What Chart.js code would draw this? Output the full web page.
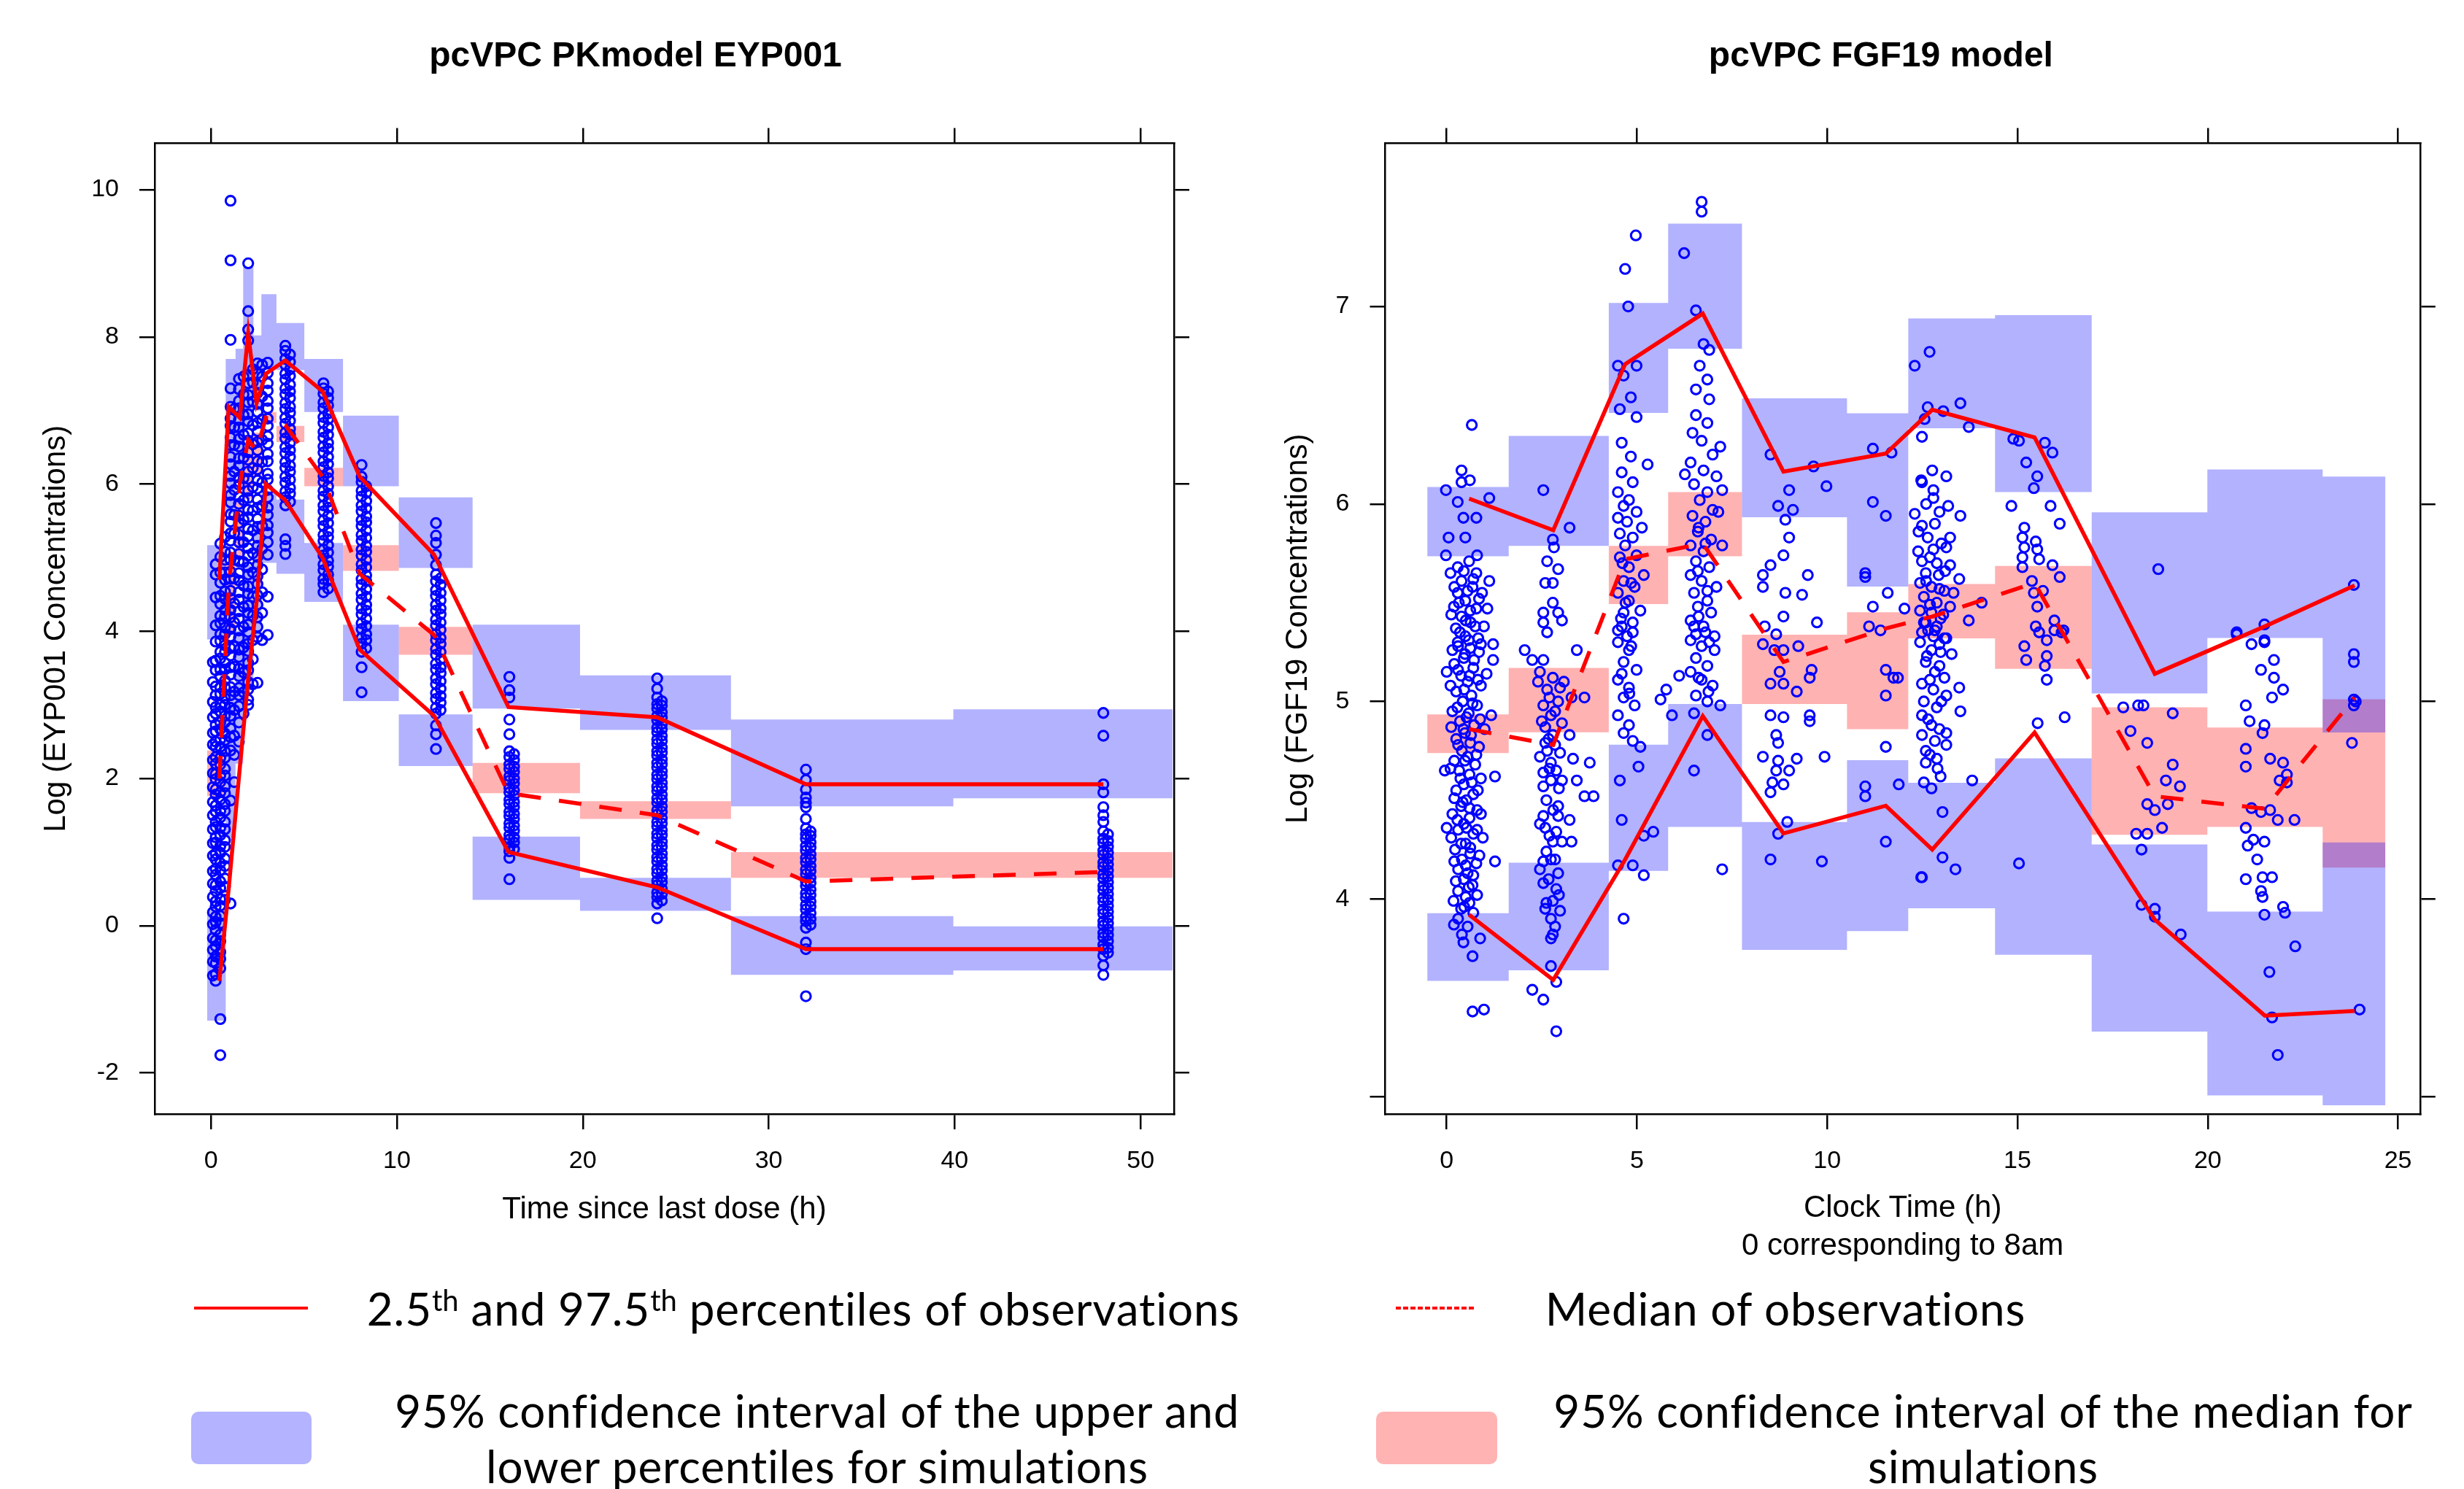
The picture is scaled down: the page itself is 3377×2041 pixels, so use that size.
<!DOCTYPE html>
<html>
<head>
<meta charset="utf-8">
<script src="https://cdn.jsdelivr.net/npm/chart.js@4.4.1/dist/chart.umd.min.js"></script>
<style>
  html, body { margin: 0; padding: 0; background: #fff; }
  body { position: relative; width: 3377px; height: 2041px; overflow: hidden; }
  canvas { position: absolute; top: 0; }
  .lg { position: absolute; font-family: Lato, 'Open Sans', sans-serif; font-size: 62px; line-height: 76px; letter-spacing: 0.9px; color: #000; white-space: nowrap; text-align: center; width: 1400px; }
  .lg sup { font-size: 40px; vertical-align: 20px; line-height: 0; letter-spacing: 0; }
  .swatch { position: absolute; }
</style>
</head>
<body>
<canvas id="pk" width="1742" height="1720" style="left:0"></canvas>
<canvas id="fgf" width="1680" height="1790" style="left:1722px"></canvas>

<div class="swatch" style="left:266px;top:1791px;width:156px;height:4px;background:#ff0000"></div>
<div class="lg" style="left:401px;top:1755px">2.5<sup>th</sup> and 97.5<sup>th</sup> percentiles of observations</div>
<div class="swatch" style="left:1913px;top:1791px;width:110px;height:4px;background:repeating-linear-gradient(90deg,#ff0000 0 7px,transparent 7px 10px)"></div>
<div class="lg" style="left:1747px;top:1755px">Median of observations</div>
<div class="swatch" style="left:262px;top:1935px;width:165px;height:72px;border-radius:10px;background:rgb(179,179,255)"></div>
<div class="lg" style="left:420px;top:1895px">95% confidence interval of the upper and<br>lower percentiles for simulations</div>
<div class="swatch" style="left:1886px;top:1935px;width:166px;height:72px;border-radius:10px;background:rgb(255,179,179)"></div>
<div class="lg" style="left:2018px;top:1895px">95% confidence interval of the median for<br>simulations</div>

<script>
// ---------- pcVPC PK model (EYP001) ----------
const pkXTicks = [0, 10, 20, 30, 40, 50];
const pkYTicks = [-2, 0, 2, 4, 6, 8, 10];

// simulation bins (edges) and 95% CI of percentiles
const pkBinEdges = [-0.21, 0.79, 1.32, 1.73, 2.28, 2.71, 3.52, 5.02, 7.1, 10.1, 14.07, 19.85, 27.97, 39.93, 51.74];
const pkUpperLo = [3.89, 5.6, 6.2, 6.8, 7.0, 7.56, 7.55, 6.98, 5.97, 4.86, 2.95, 2.66, 1.62, 1.73];
const pkUpperHi = [5.17, 7.70, 7.84, 8.95, 8.02, 8.58, 8.19, 7.70, 6.93, 5.82, 4.09, 3.40, 2.80, 2.94];
const pkMedLo = [1.76, 4.0, 5.0, 5.8, 6.1, 6.83, 6.57, 5.97, 4.82, 3.68, 1.80, 1.45, 0.65, 0.65];
const pkMedHi = [2.38, 4.9, 5.8, 6.5, 6.7, 6.98, 6.79, 6.22, 5.17, 4.06, 2.21, 1.69, 1.00, 1.00];
const pkLowerLo = [-1.29, 1.2, 2.2, 3.2, 3.9, 4.93, 4.78, 4.40, 3.05, 2.17, 0.35, 0.20, -0.67, -0.61];
const pkLowerHi = [0.21, 3.2, 4.0, 4.9, 5.5, 5.90, 5.79, 5.20, 4.09, 2.87, 1.21, 0.65, 0.13, -0.01];

// observed percentiles
const pkLineT = [0.45, 0.95, 1.55, 2.0, 2.45, 2.95, 4.0, 6.0, 8.0, 12.0, 16.0, 24.0, 32.0, 48.0];
const pkP975 = [4.7, 7.05, 6.9, 8.05, 7.1, 7.5, 7.68, 7.26, 6.1, 5.04, 2.97, 2.83, 1.92, 1.92];
const pkP50 = [2.0, 4.6, 6.0, 6.6, 6.45, 6.9, 6.8, 6.1, 4.78, 3.95, 1.8, 1.5, 0.6, 0.73];
const pkP025 = [-0.75, 0.5, 2.15, 3.35, 4.4, 6.0, 5.78, 5.0, 3.75, 2.85, 1.0, 0.52, -0.32, -0.32];

// observations, one list per sampling time
const pkObsTimes = [0.1, 0.25, 0.5, 0.75, 1.05, 1.25, 1.5, 1.75, 2.0, 2.25, 2.5, 2.75, 3.05, 4.0, 4.25, 6.05, 6.3, 8.1, 8.35, 12.1, 12.35, 16.05, 16.3, 24.0, 24.25, 32.0, 32.25, 48.0, 48.25];
const pkObsConc = [
  [-0.68,-0.49,-0.33,-0.17,0.02,0.18,0.39,0.57,0.74,0.95,1.12,1.31,1.5,1.68,1.88,2.07,2.25,2.46,2.62,2.83,3.04,3.31,3.58],
  [-0.75,-0.66,-0.51,-0.42,-0.28,-0.2,-0.06,0.05,0.12,0.26,0.33,0.47,0.55,0.69,0.77,0.9,0.98,1.13,1.2,1.34,1.41,1.55,1.63,1.78,1.85,1.99,2.06,2.2,2.29,2.43,2.5,2.64,2.73,2.88,2.97,3.13,3.25,3.47,3.6,3.86,4.08,4.46,4.77,4.91],
  [-1.76,-1.27,-0.58,-0.45,-0.36,-0.21,-0.12,0.03,0.13,0.27,0.36,0.51,0.6,0.75,0.85,0.99,1.08,1.23,1.33,1.47,1.56,1.71,1.81,1.95,2.04,2.19,2.28,2.43,2.53,2.67,2.76,2.91,3.0,3.15,3.24,3.39,3.48,3.63,3.72,3.87,3.96,4.11,4.21,4.37,4.48,4.66,4.8,5.01,5.19],
  [0.35,0.53,0.64,0.81,0.91,1.07,1.16,1.31,1.41,1.56,1.65,1.8,1.89,2.04,2.13,2.28,2.37,2.52,2.61,2.76,2.85,3.0,3.09,3.24,3.33,3.48,3.57,3.72,3.81,3.96,4.05,4.2,4.29,4.44,4.54,4.7,4.8,4.97,5.08,5.28],
  [0.3,1.7,2.38,2.56,2.68,2.85,2.96,3.13,3.24,3.41,3.51,3.67,3.77,3.93,4.03,4.19,4.29,4.45,4.55,4.71,4.81,4.97,5.07,5.23,5.33,5.49,5.59,5.75,5.85,6.01,6.11,6.27,6.37,6.53,6.63,6.79,6.89,7.05,7.3,7.96,9.04,9.85],
  [1.95,2.32,2.58,2.93,3.18,3.52,3.79,4.12,4.38,4.72,4.97,5.33,5.58,5.92,6.17,6.53,6.77,7.02],
  [2.5,2.76,2.98,3.13,3.23,3.39,3.49,3.65,3.75,3.91,4.01,4.17,4.27,4.43,4.53,4.69,4.79,4.95,5.05,5.21,5.31,5.47,5.57,5.73,5.83,5.99,6.09,6.25,6.35,6.51,6.61,6.77,6.87,7.03,7.13,7.29,7.43],
  [2.88,3.17,3.44,3.78,4.06,4.33,4.62,4.94,5.21,5.52,5.78,6.08,6.36,6.67,6.94,7.22,7.46],
  [3.0,3.07,3.21,3.31,3.47,3.57,3.73,3.83,3.99,4.09,4.25,4.35,4.51,4.61,4.77,4.87,5.03,5.13,5.29,5.39,5.55,5.65,5.81,5.91,6.07,6.17,6.33,6.43,6.59,6.69,6.85,6.95,7.11,7.21,7.37,7.48,7.95,8.1,8.35,9.0],
  [3.28,3.62,3.88,4.21,4.47,4.8,5.06,5.37,5.64,5.96,6.22,6.54,6.8,7.12,7.38,7.56],
  [3.3,3.92,4.06,4.19,4.36,4.49,4.64,4.75,4.9,5.01,5.16,5.27,5.42,5.53,5.68,5.79,5.94,6.05,6.2,6.31,6.46,6.57,6.72,6.83,6.98,7.09,7.24,7.35,7.5,7.64],
  [3.88,4.25,4.53,4.84,5.12,5.43,5.71,6.02,6.3,6.6,6.88,7.19,7.46,7.62],
  [3.95,4.47,5.04,5.21,5.34,5.44,5.58,5.68,5.82,5.92,6.06,6.14,6.31,6.41,6.55,6.65,6.79,6.89,7.03,7.13,7.27,7.37,7.51,7.65],
  [5.05,5.16,5.25,5.71,5.82,5.9,6.02,6.1,6.22,6.3,6.42,6.5,6.62,6.7,6.82,6.9,7.02,7.1,7.22,7.3,7.42,7.5,7.62,7.7,7.81,7.88],
  [5.76,5.87,5.95,6.06,6.17,6.25,6.37,6.46,6.56,6.67,6.75,6.86,6.97,7.05,7.17,7.26,7.35,7.47,7.56,7.66,7.76],
  [4.53,4.64,4.71,4.83,4.91,5.03,5.11,5.23,5.31,5.43,5.51,5.63,5.71,5.83,5.91,6.03,6.11,6.23,6.31,6.43,6.51,6.63,6.71,6.83,6.91,7.03,7.11,7.23,7.3,7.37],
  [4.58,4.69,4.77,4.88,4.96,5.07,5.17,5.28,5.36,5.47,5.57,5.68,5.76,5.87,5.97,6.08,6.16,6.27,6.37,6.48,6.56,6.67,6.77,6.88,6.96,7.07,7.17,7.26],
  [3.17,3.51,3.72,3.83,3.91,4.03,4.11,4.23,4.31,4.43,4.51,4.63,4.71,4.83,4.91,5.03,5.11,5.23,5.31,5.43,5.51,5.63,5.71,5.83,5.91,6.03,6.1,6.26],
  [3.77,3.88,3.96,4.07,4.17,4.28,4.36,4.47,4.57,4.68,4.76,4.87,4.97,5.08,5.16,5.27,5.37,5.48,5.56,5.67,5.77,5.88,5.97],
  [2.4,2.6,2.72,2.88,2.96,3.08,3.16,3.28,3.36,3.48,3.56,3.68,3.76,3.88,3.96,4.08,4.16,4.28,4.36,4.48,4.56,4.68,4.77,4.9,5.04,5.2,5.3,5.47],
  [2.93,3.03,3.12,3.22,3.32,3.43,3.51,3.62,3.72,3.83,3.91,4.02,4.12,4.23,4.31,4.42,4.52,4.63,4.72],
  [0.63,0.92,1.01,1.07,1.17,1.23,1.33,1.39,1.49,1.55,1.65,1.71,1.81,1.87,1.97,2.03,2.13,2.19,2.29,2.37,2.6,2.8,3.1,3.2,3.38],
  [1.04,1.13,1.2,1.29,1.36,1.45,1.52,1.61,1.68,1.77,1.84,1.93,2.0,2.09,2.16,2.25,2.33],
  [0.1,0.3,0.39,0.45,0.55,0.61,0.71,0.77,0.87,0.93,1.03,1.09,1.19,1.25,1.35,1.41,1.51,1.57,1.67,1.73,1.83,1.89,1.99,2.05,2.15,2.21,2.31,2.37,2.47,2.53,2.63,2.69,2.79,2.85,2.95,3.01,3.1,3.22,3.36],
  [0.34,0.43,0.5,0.59,0.66,0.75,0.82,0.91,0.98,1.07,1.14,1.23,1.3,1.39,1.46,1.55,1.62,1.71,1.78,1.87,1.94,2.03,2.1,2.19,2.26,2.35,2.42,2.51,2.58,2.67,2.74,2.83,2.9,2.99,3.05],
  [-0.96,-0.32,-0.23,-0.03,0.06,0.12,0.22,0.28,0.38,0.44,0.54,0.6,0.7,0.76,0.86,0.92,1.02,1.08,1.18,1.24,1.32,1.45,1.61,1.67,1.74,1.85,1.98,2.12],
  [0.01,0.09,0.17,0.26,0.33,0.42,0.49,0.58,0.65,0.74,0.81,0.9,0.97,1.06,1.13,1.22,1.28],
  [-0.67,-0.54,-0.41,-0.32,-0.26,-0.16,-0.1,0.0,0.06,0.16,0.22,0.32,0.38,0.48,0.54,0.64,0.7,0.8,0.86,0.96,1.02,1.12,1.18,1.28,1.41,1.5,1.61,1.81,1.92,2.58,2.89],
  [-0.37,-0.3,-0.21,-0.13,-0.05,0.03,0.11,0.19,0.27,0.35,0.43,0.51,0.59,0.67,0.75,0.83,0.91,0.99,1.07,1.15,1.24]
];

// ---------- pcVPC FGF19 model ----------
const fgfXTicks = [0, 5, 10, 15, 20, 25];
const fgfYTicks = [3, 4, 5, 6, 7];
const fgfYLabels = [4, 5, 6, 7];

const fgfBinEdges = [-0.51, 1.63, 4.26, 5.82, 7.76, 10.52, 12.13, 14.41, 16.95, 19.99, 23.02, 24.67];
const fgfUpperLo = [5.735, 5.788, 6.461, 6.786, 5.933, 5.582, 6.383, 6.06, 5.041, 5.321, 4.843];
const fgfUpperHi = [6.086, 6.345, 7.018, 7.42, 6.535, 6.459, 6.939, 6.956, 5.958, 6.175, 6.139];
const fgfMedLo = [4.739, 4.844, 5.493, 5.735, 4.987, 4.86, 5.32, 5.165, 4.325, 4.365, 4.159];
const fgfMedHi = [4.934, 5.17, 5.788, 6.06, 5.338, 5.452, 5.595, 5.686, 4.97, 4.868, 5.011];
const fgfLowerLo = [3.585, 3.639, 4.142, 4.365, 3.742, 3.837, 3.953, 3.717, 3.328, 3.005, 2.955];
const fgfLowerHi = [3.928, 4.184, 4.781, 4.987, 4.39, 4.703, 4.588, 4.712, 4.276, 3.936, 4.286];

const fgfLineT = [0.59, 2.8, 4.69, 6.73, 8.85, 11.54, 12.76, 15.45, 18.61, 21.5, 23.86];
const fgfP975 = [6.027, 5.867, 6.708, 6.964, 6.164, 6.255, 6.477, 6.337, 5.14, 5.38, 5.587];
const fgfP50 = [4.86, 4.78, 5.72, 5.8, 5.2, 5.37, 5.43, 5.6, 4.52, 4.457, 5.02];
const fgfP025 = [3.92, 3.59, 4.2, 4.926, 4.332, 4.472, 4.25, 4.843, 3.895, 3.409, 3.433];

// observations [clock time, log conc]
const fgfObs = [
  // ~0-1 h
  [0.66,6.40],[0.39,6.17],[0.39,6.11],[0.61,6.12],[-0.02,6.07],[0.29,6.01],[1.12,6.03],[0.44,5.93],[0.78,5.93],[0.05,5.83],[0.49,5.83],[-0.02,5.74],[0.80,5.74],
  [0.59,5.71],[0.29,5.68],[0.78,5.65],[1.12,5.61],[0.39,5.61],[0.68,5.58],[0.29,5.55],[0.93,5.55],[0.49,5.51],[0.19,5.48],[0.78,5.47],[1.07,5.47],[0.39,5.43],[0.63,5.40],[0.98,5.38],[0.24,5.37],[0.49,5.33],[0.83,5.32],[0.29,5.30],
  [0.30,5.28],[0.62,5.27],[0.85,5.25],[0.45,5.22],[0.2,5.19],[0.7,5.17],[1.05,5.14],[0.38,5.13],[0.55,5.1],[0.9,5.08],[0.25,5.05],[0.65,5.03],[0.42,5.0],[0.8,4.98],[0.15,4.95],[0.58,4.94],[0.35,4.9],[0.72,4.88],[1.0,4.86],[0.48,4.84],
  [0.25,4.81],[0.62,4.79],[0.85,4.77],[0.4,4.75],[0.55,4.72],[0.2,4.7],[0.75,4.68],[0.33,4.65],[0.6,4.63],[0.9,4.61],[0.45,4.58],[0.25,4.55],[0.7,4.53],[0.52,4.5],[0.38,4.47],[0.8,4.45],[0.15,4.43],[0.6,4.41],[0.45,4.38],[0.3,4.35],
  [0.7,4.33],[0.95,4.31],[0.5,4.28],[0.22,4.25],[0.62,4.23],[0.4,4.2],[0.78,4.18],[0.3,4.15],[0.55,4.13],[0.45,4.1],[0.68,4.07],[0.3,4.04],[0.5,4.01],[0.6,3.98],[0.38,3.95],
  [0.1,5.65],[0.45,5.66],[0.7,5.62],[0.2,5.58],[0.55,5.56],[0.85,5.52],[0.32,5.5],[0.62,5.46],[0.12,5.44],[0.5,5.41],[0.75,5.38],[0.35,5.35],[0.58,5.31],[0.9,5.29],[0.15,5.26],[0.48,5.24],
  [0.72,5.21],[0.3,5.16],[0.6,5.13],[0.82,5.11],[0.1,5.08],[0.46,5.06],[0.68,4.99],[0.28,4.97],[0.52,4.92],[0.88,4.91],[0.12,4.87],[0.44,4.86],[0.64,4.83],[0.3,4.78],[0.78,4.73],[0.48,4.7],
  [0.1,4.66],[0.36,4.61],[0.66,4.59],[0.82,4.55],[0.2,4.51],[0.42,4.49],[0.6,4.46],[0.9,4.43],[0.28,4.4],[0.52,4.36],[0.8,4.35],[0.12,4.31],[0.38,4.28],[0.62,4.26],[0.86,4.22],[0.2,4.19],
  [0.5,4.17],[0.7,4.12],[0.24,4.09],[0.58,4.06],[0.8,4.02],[0.18,3.99],[0.46,3.96],[0.7,3.93],[0.3,3.9],[0.55,3.86],[0.4,3.82],
  [0.19,3.87],[0.44,3.78],[0.88,3.80],[0.68,3.71],[0.68,3.43],[0.98,3.44],[1.22,5.21],[1.22,5.29],[1.27,4.62],[1.17,4.93],[0.0,4.36],[-0.05,4.65],[0.0,5.15],[1.27,4.19],
  // ~2-3.5 h
  [2.54,6.07],[2.79,5.82],[3.23,5.88],[2.82,5.78],[2.64,5.71],[2.93,5.67],[2.59,5.60],[2.79,5.60],[2.79,5.5],[2.54,5.45],[2.93,5.45],[2.54,5.40],[3.03,5.41],[2.64,5.35],
  [2.05,5.26],[2.25,5.21],[2.54,5.21],[3.42,5.26],[2.79,5.12],[2.40,5.1],[3.08,5.1],[2.64,5.06],[2.98,5.07],[2.54,4.98],[2.93,5.0],[3.28,5.02],[3.62,5.02],[2.74,4.93],[3.03,4.89],[3.23,4.83],
  [2.59,4.87],[2.79,4.83],[2.59,4.79],[2.64,4.75],[2.98,4.74],[3.32,4.71],[3.76,4.69],[2.74,4.69],[2.54,4.64],[2.88,4.65],[3.03,4.6],[3.42,4.6],[2.54,4.57],[2.74,4.6],[3.62,4.52],[3.86,4.52],
  [2.93,4.47],[2.54,4.42],[3.23,4.4],[2.93,4.42],[2.59,4.36],[2.88,4.34],[2.79,4.29],[3.03,4.29],[3.28,4.29],[2.54,4.19],[2.74,4.2],[2.93,4.13],[2.54,4.08],[2.88,4.05],[2.79,3.99],[2.59,3.95],
  [2.98,3.94],[2.74,3.90],[2.79,3.82],[2.74,3.80],[2.74,3.66],[2.88,3.58],[2.25,3.54],[2.54,3.49],[2.88,3.33],
  [2.45,5.15],[2.7,5.02],[2.85,4.95],[2.5,4.9],[2.68,4.81],[2.85,4.78],[2.45,4.72],[2.7,4.66],[2.95,4.56],[2.62,4.5],[2.8,4.45],[2.45,4.38],[2.7,4.32],[2.62,4.24],[2.85,4.2],[2.45,4.15],
  [2.68,4.1],[2.95,4.02],[2.62,3.98],[2.85,3.86],
  // ~4.5-5 h
  [4.97,7.36],[4.69,7.19],[4.77,7.0],[4.5,6.70],[4.99,6.70],[4.65,6.65],[4.84,6.54],[4.55,6.48],[4.99,6.44],[4.6,6.31],[4.84,6.24],[5.28,6.2],[4.6,6.16],[4.89,6.11],[4.5,6.06],[4.79,6.02],
  [4.65,5.99],[4.99,5.96],[4.5,5.93],[4.74,5.91],[5.13,5.88],[4.55,5.85],[4.89,5.83],[4.69,5.79],[4.99,5.74],[4.55,5.73],[4.79,5.68],[5.18,5.64],[4.65,5.61],[4.94,5.58],[4.5,5.55],[4.79,5.51],
  [5.09,5.46],[4.65,5.45],[4.89,5.40],[4.5,5.36],[4.74,5.33],[4.6,5.38],[4.89,5.35],[4.5,5.30],[4.79,5.26],[4.65,5.2],[4.99,5.16],[4.5,5.11],[4.79,5.07],[4.65,5.02],[4.94,4.98],[4.5,4.93],
  [4.79,4.88],[4.65,4.84],[4.89,4.80],[5.09,4.77],[5.04,4.67],[4.55,4.6],[4.6,4.4],[5.43,4.34],[5.18,4.32],[4.5,4.17],[4.89,4.17],[5.18,4.12],[4.65,3.90],
  [4.62,5.7],[4.85,5.6],[4.7,5.5],[4.58,5.42],[4.85,5.28],[4.6,5.14],[4.8,5.04],
  // ~6.5-7 h
  [6.70,7.53],[6.70,7.48],[6.24,7.27],[6.55,6.98],[6.75,6.81],[6.9,6.78],[6.65,6.70],[6.85,6.63],[6.55,6.58],[6.9,6.53],[6.55,6.45],[6.85,6.41],[7.19,6.29],[6.46,6.36],[6.7,6.32],[6.99,6.25],
  [6.41,6.21],[6.75,6.17],[7.09,6.14],[6.5,6.10],[6.85,6.06],[6.26,6.15],[6.65,6.02],[6.99,5.97],[6.46,5.94],[6.8,5.91],[7.14,5.96],[6.6,5.86],[6.95,5.82],[6.41,5.79],[6.75,5.76],[7.24,5.79],
  [6.55,5.71],[6.9,5.68],[6.41,5.64],[6.7,5.61],[7.09,5.58],[6.5,5.55],[6.85,5.51],[6.6,5.48],[6.95,5.45],[6.41,5.41],[6.75,5.38],[6.55,5.34],[7.04,5.33],[7.24,6.07],
  [6.5,5.38],[6.8,5.35],[6.41,5.31],[6.7,5.28],[7.04,5.26],[6.55,5.22],[6.85,5.18],[6.41,5.15],[6.7,5.11],[6.99,5.08],[6.55,5.03],[6.85,5.0],[6.5,4.94],
  [6.11,5.13],[5.77,5.06],[5.62,5.01],[5.92,4.93],[7.19,4.98],[6.85,4.83],[6.5,4.65],[7.24,4.15],
  [6.62,5.88],[6.8,5.8],[6.6,5.66],[6.85,5.56],[6.62,5.43],[6.9,5.3],[6.62,5.12],[6.88,5.05],
  // ~8.5-10 h
  [8.51,6.25],[9.0,6.07],[8.71,5.99],[9.1,5.97],[8.9,5.92],[9.0,5.83],[9.98,6.09],[9.64,6.19],[8.85,5.74],[8.51,5.69],[8.31,5.64],[9.49,5.64],[8.31,5.58],[8.9,5.55],[9.34,5.54],[9.73,5.40],
  [8.85,5.43],[8.36,5.38],[8.66,5.34],[8.31,5.29],[8.61,5.26],[8.85,5.26],[9.24,5.28],[8.75,5.15],[9.59,5.16],[9.54,5.12],[8.51,5.09],[8.85,5.09],[9.2,5.05],[8.51,4.93],[8.85,4.92],[9.54,4.93],
  [9.54,4.90],[8.66,4.83],[8.71,4.79],[8.31,4.72],[8.71,4.70],[9.2,4.71],[9.93,4.72],[8.66,4.65],[9.0,4.65],[8.56,4.59],[8.85,4.58],[8.51,4.54],[8.95,4.39],[8.71,4.33],[8.51,4.20],[9.86,4.19],
  // ~11-12 h
  [11.2,6.28],[11.69,6.26],[11.2,6.01],[11.54,5.94],[11.0,5.65],[11.0,5.63],[11.59,5.55],[11.2,5.48],[12.03,5.47],[11.1,5.38],[11.4,5.36],[11.54,5.16],[11.74,5.12],[11.86,5.12],[11.54,5.03],
  [11.54,4.77],[11.0,4.57],[11.0,4.52],[11.88,4.58],[11.54,4.29],[12.47,4.11],
  // ~12.5-13.5 h
  [12.69,6.77],[12.3,6.70],[12.64,6.49],[13.5,6.51],[13.05,6.47],[12.49,6.34],[13.72,6.39],[12.56,6.43],[12.47,6.12],
  [12.76,6.17],[13.13,6.14],[12.49,6.11],[12.79,6.07],[12.79,6.03],[13.18,5.99],[12.3,5.95],[13.5,5.94],[12.49,5.89],[12.83,5.9],[13.23,5.83],[12.64,5.83],[12.39,5.76],[12.79,5.77],[13.13,5.78],
  [12.49,5.71],[12.88,5.70],[13.23,5.69],[12.59,5.65],[12.93,5.64],[13.47,5.62],[12.44,5.60],[12.74,5.58],[13.08,5.56],[13.32,5.55],[12.54,5.53],[12.88,5.50],[13.23,5.48],[12.44,5.46],[12.74,5.45],
  [12.98,5.42],[12.59,5.40],[12.88,5.38],[12.49,5.35],[12.79,5.33],[13.13,5.32],[13.72,5.41],[14.06,5.50],
  [12.54,5.4],[12.83,5.36],[13.08,5.32],[12.44,5.30],[12.74,5.26],[12.98,5.25],[13.27,5.24],[12.59,5.2],[12.83,5.15],[13.08,5.12],[12.49,5.09],[12.79,5.06],[13.13,5.03],[12.54,5.0],[12.88,4.97],
  [12.49,4.93],[12.74,4.88],[13.13,4.84],[12.49,4.83],[12.83,4.8],[13.13,4.78],[12.59,4.75],[12.88,4.71],[12.59,4.69],[12.98,4.62],[12.54,4.59],[12.74,4.56],[13.81,4.6],[13.47,5.07],[13.5,4.95],
  [13.03,4.44],[13.03,4.21],[13.37,4.15],[12.49,4.11],[15.04,4.18],
  [12.6,6.0],[12.95,5.96],[12.4,5.86],[13.0,5.8],[12.7,5.73],[13.1,5.66],[12.6,5.61],[12.95,5.57],[12.7,5.49],[13.05,5.44],[12.65,5.36],[12.95,5.29],[12.62,5.23],[12.95,5.18],[12.7,5.11],[13.0,5.0],
  [12.65,4.91],[12.95,4.86],[12.7,4.73],[12.9,4.66],
  // ~15-16 h
  [14.89,6.33],[15.04,6.32],[15.72,6.31],[15.92,6.26],[15.23,6.21],[15.52,6.14],[15.43,6.08],[14.84,5.99],[15.87,5.99],[16.11,5.9],[15.18,5.88],[15.13,5.83],[15.48,5.81],[15.18,5.78],[15.52,5.77],
  [15.13,5.73],[15.57,5.72],[15.92,5.69],[15.13,5.68],[16.11,5.63],[15.38,5.61],[15.67,5.56],[15.43,5.55],[15.52,5.48],[15.97,5.41],[16.21,5.36],[15.57,5.35],
  [15.18,5.28],[15.77,5.31],[16.16,5.35],[15.23,5.21],[15.77,5.23],[15.72,5.18],[15.77,5.11],[15.53,4.89],[16.24,4.92],[15.48,5.38],[15.97,5.36],
  // ~18-19 h
  [18.7,5.67],[17.78,4.97],[18.17,4.98],[18.31,4.98],[19.08,4.94],[17.97,4.85],[18.41,4.79],[19.08,4.68],[18.9,4.6],[19.27,4.57],[18.41,4.48],[18.61,4.45],[18.95,4.48],[18.12,4.33],[18.41,4.33],
  [18.8,4.36],[18.26,4.25],[18.26,3.97],[18.61,3.95],[18.61,3.91],[19.29,3.82],
  // ~21-22 h
  [20.76,5.35],[21.49,5.39],[21.49,5.31],[20.76,5.34],[21.49,5.30],[21.15,5.29],[21.74,5.21],[21.4,5.16],[21.74,5.12],[21.98,5.06],[21.69,5.02],[21.0,4.98],[21.1,4.9],[21.49,4.88],[21.44,4.84],
  [21.0,4.76],[21.0,4.67],[21.64,4.71],[21.98,4.69],[22.08,4.63],[21.89,4.6],[22.08,4.59],[21.15,4.46],[21.4,4.44],[21.64,4.45],[21.84,4.40],[22.28,4.40],[21.0,4.36],[21.2,4.30],[21.49,4.29],
  [21.05,4.27],[21.3,4.2],[21.0,4.1],[21.44,4.11],[21.69,4.11],[21.4,4.04],[21.44,4.01],[21.98,3.96],[22.03,3.93],[21.49,3.92],[22.3,3.76],[21.62,3.63],[21.69,3.4],[21.84,3.21],
  // ~24 h
  [23.84,5.59],[23.84,5.24],[23.84,5.2],[23.84,5.01],[23.89,5.0],[23.84,4.98],[23.79,4.79],[23.99,3.44]
];

// ---------- helpers ----------
const FONT = "'Liberation Sans', Arial, Helvetica, sans-serif";
const BLUE_BAND = 'rgba(0, 0, 255, 0.3)';
const RED_BAND = 'rgba(255, 0, 0, 0.3)';

const pairs = (xs, ys) => xs.map((x, i) => ({ x: x, y: ys[i] }));

// a stepped band between lo and hi over the bins
function band(edges, lo, hi, color) {
  const steps = vals => edges.map((e, i) => ({ x: e, y: vals[Math.min(i, vals.length - 1)] }));
  return [
    { type: 'line', data: steps(hi), stepped: true, fill: '+1', backgroundColor: color,
      borderWidth: 0, borderColor: 'transparent', pointRadius: 0, order: 3 },
    { type: 'line', data: steps(lo), stepped: true, fill: false,
      borderWidth: 0, borderColor: 'transparent', pointRadius: 0, order: 3 }
  ];
}

function redLine(xs, ys, dashed) {
  return { type: 'line', data: pairs(xs, ys), borderColor: '#ff0000', borderWidth: 5.5,
    borderDash: dashed ? [31, 25] : [], pointRadius: 0, fill: false, tension: 0, order: 0 };
}

function obsSet(points) {
  return { type: 'scatter', data: points, pointStyle: 'circle', pointRadius: 6.6,
    borderColor: '#0000ff', borderWidth: 3.1, backgroundColor: 'transparent', order: 1 };
}

const gridOpts = { display: true, drawOnChartArea: false, drawTicks: true, tickLength: 21,
  tickWidth: 2.5, tickColor: '#000', lineWidth: 2.5, color: '#000' };
const borderOpts = { display: true, color: '#000', width: 2.5 };
const tickFont = { family: FONT, size: 34 };
const axisFont = { family: FONT, size: 42, lineHeight: 1.2 };

function setTicks(values) {
  return scale => { scale.ticks = values.map(v => ({ value: v })); };
}

function makeScales(o) {
  return {
    x: {
      type: 'linear', axis: 'x', position: 'bottom', min: o.xMin, max: o.xMax,
      grid: gridOpts, border: borderOpts,
      afterBuildTicks: setTicks(o.xTicks),
      afterFit: s => { s.height = o.bottomH; },
      ticks: { color: '#000', font: tickFont, padding: 23, maxRotation: 0, autoSkip: false,
        callback: v => String(v) },
      title: { display: true, text: o.xTitle, color: '#000', font: o.xTitleFont || axisFont,
        padding: { top: 0, bottom: o.xTitlePad } }
    },
    x2: {
      type: 'linear', axis: 'x', position: 'top', min: o.xMin, max: o.xMax,
      grid: gridOpts, border: borderOpts,
      afterBuildTicks: setTicks(o.xTicks),
      afterFit: s => { s.height = 90.2; },
      ticks: { display: false }
    },
    y: {
      type: 'linear', axis: 'y', position: 'left', min: o.yMin, max: o.yMax,
      grid: gridOpts, border: borderOpts,
      afterBuildTicks: setTicks(o.yTicks),
      afterFit: s => { s.width = o.leftW; },
      ticks: { color: '#000', font: tickFont, padding: 28, autoSkip: false,
        callback: o.yLabel || (v => String(v)) },
      title: { display: true, text: o.yTitle, color: '#000', font: axisFont,
        padding: { top: o.yTitlePad, bottom: 0 } }
    },
    y2: {
      type: 'linear', axis: 'y', position: 'right', min: o.yMin, max: o.yMax,
      grid: gridOpts, border: borderOpts,
      afterBuildTicks: setTicks(o.yTicks),
      afterFit: s => { s.width = o.rightW; },
      ticks: { display: false }
    }
  };
}

function baseOptions(title, padLeft, scales) {
  return {
    responsive: false,
    animation: false,
    events: [],
    layout: { padding: { left: padLeft, right: 0, top: 0, bottom: 0 } },
    plugins: {
      legend: { display: false },
      tooltip: { enabled: false },
      title: { display: true, text: title, color: '#000',
        font: { family: FONT, size: 48, weight: 'bold', lineHeight: 1.2 },
        padding: { top: 48.7, bottom: 0 } }
    },
    scales: scales
  };
}

// ---------- left panel ----------
const pkPoints = [];
pkObsTimes.forEach((t, i) => pkObsConc[i].forEach(v => pkPoints.push({ x: t, y: v })));

new Chart(document.getElementById('pk'), {
  type: 'scatter',
  data: {
    datasets: [
      redLine(pkLineT, pkP975, false),
      redLine(pkLineT, pkP025, false),
      redLine(pkLineT, pkP50, true),
      obsSet(pkPoints),
      ...band(pkBinEdges, pkUpperLo, pkUpperHi, BLUE_BAND),
      ...band(pkBinEdges, pkLowerLo, pkLowerHi, BLUE_BAND),
      ...band(pkBinEdges, pkMedLo, pkMedHi, RED_BAND)
    ]
  },
  options: baseOptions('pcVPC PKmodel EYP001', 0, makeScales({
    xMin: -3.03, xMax: 51.8, yMin: -2.56, yMax: 10.63,
    xTicks: pkXTicks, yTicks: pkYTicks,
    bottomH: 193, leftW: 212, rightW: 133,
    xTitle: 'Time since last dose (h)', xTitlePad: 36.8,
    yTitle: 'Log (EYP001 Concentrations)', yTitlePad: 52.3
  }))
});

// ---------- right panel ----------
new Chart(document.getElementById('fgf'), {
  type: 'scatter',
  data: {
    datasets: [
      redLine(fgfLineT, fgfP975, false),
      redLine(fgfLineT, fgfP025, false),
      redLine(fgfLineT, fgfP50, true),
      obsSet(fgfObs.map(p => ({ x: p[0], y: p[1] }))),
      ...band(fgfBinEdges, fgfUpperLo, fgfUpperHi, BLUE_BAND),
      ...band(fgfBinEdges, fgfLowerLo, fgfLowerHi, BLUE_BAND),
      ...band(fgfBinEdges, fgfMedLo, fgfMedHi, RED_BAND)
    ]
  },
  options: baseOptions('pcVPC FGF19 model', 31.8, makeScales({
    xMin: -1.615, xMax: 25.58, yMin: 2.911, yMax: 7.826,
    xTicks: fgfXTicks, yTicks: fgfYTicks,
    yLabel: v => (fgfYLabels.includes(v) ? String(v) : ''),
    bottomH: 263, leftW: 144.7, rightW: 85.2,
    xTitle: ['Clock Time (h)', '0 corresponding to 8am'],
    xTitleFont: { family: FONT, size: 42, lineHeight: 52 / 42 },
    xTitlePad: 56,
    yTitle: 'Log (FGF19 Concentrations)', yTitlePad: 0
  }))
});
</script>
</body>
</html>
